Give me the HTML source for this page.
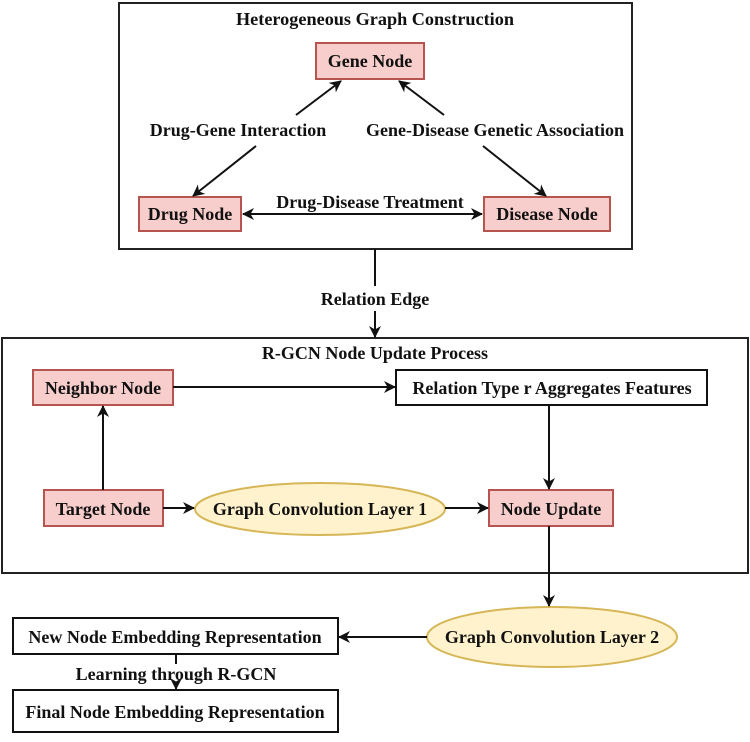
<!DOCTYPE html>
<html><head><meta charset="utf-8"><style>
body{margin:0;background:#fff}
svg text{font-family:"Liberation Serif",serif;font-weight:bold;font-size:18px;fill:#111}
</style></head><body>
<svg width="750" height="737" viewBox="0 0 750 737" xmlns="http://www.w3.org/2000/svg">
<defs><marker id="a" markerWidth="12" markerHeight="12" refX="11" refY="6" orient="auto" markerUnits="userSpaceOnUse"><path d="M0,0 L12,6 L0,12 L3.5,6 z" fill="#111"/></marker>
<marker id="s" markerWidth="12" markerHeight="12" refX="1" refY="6" orient="auto" markerUnits="userSpaceOnUse"><path d="M12,0 L0,6 L12,12 L8.5,6 z" fill="#111"/></marker></defs>
<g fill="none" stroke="#222" stroke-width="2">
<rect x="119" y="3" width="513" height="246"/>
<rect x="2" y="338" width="746" height="235"/>
</g>
<g fill="#f8cecc" stroke="#b85450" stroke-width="2">
<rect x="316" y="43" width="108" height="36"/>
<rect x="139" y="197" width="102" height="34"/>
<rect x="484" y="197" width="126" height="34"/>
<rect x="33" y="370" width="140" height="35"/>
<rect x="44" y="490" width="119" height="36"/>
<rect x="489" y="490" width="124" height="36"/>
</g>
<g fill="#fff" stroke="#111" stroke-width="2">
<rect x="396" y="370" width="311" height="35"/>
<rect x="13" y="618" width="325" height="36"/>
<rect x="13" y="690" width="325" height="42"/>
</g>
<g fill="#fff2cc" stroke="#d6b656" stroke-width="2">
<ellipse cx="320" cy="509" rx="125" ry="26"/>
<ellipse cx="552" cy="637" rx="125" ry="30"/>
</g>
<g stroke="#111" stroke-width="2" fill="none">
<line x1="296" y1="115" x2="341" y2="81" marker-end="url(#a)"/>
<line x1="256" y1="146" x2="193" y2="196" marker-end="url(#a)"/>
<line x1="444" y1="115" x2="399" y2="81" marker-end="url(#a)"/>
<line x1="483" y1="146" x2="546" y2="196" marker-end="url(#a)"/>
<line x1="243" y1="214" x2="482" y2="214" marker-start="url(#s)" marker-end="url(#a)"/>
<line x1="375" y1="249" x2="375" y2="286"/>
<line x1="375" y1="311" x2="375" y2="337" marker-end="url(#a)"/>
<line x1="173" y1="387" x2="395" y2="387" marker-end="url(#a)"/>
<line x1="103" y1="490" x2="103" y2="406" marker-end="url(#a)"/>
<line x1="549" y1="405" x2="549" y2="489" marker-end="url(#a)"/>
<line x1="163" y1="508" x2="194" y2="508" marker-end="url(#a)"/>
<line x1="445" y1="508" x2="488" y2="508" marker-end="url(#a)"/>
<line x1="549" y1="526" x2="549" y2="606" marker-end="url(#a)"/>
<line x1="427" y1="637" x2="339" y2="637" marker-end="url(#a)"/>
<line x1="176" y1="654" x2="176" y2="664"/>
<line x1="176" y1="682" x2="176" y2="689" marker-end="url(#a)"/>
</g>
<g text-anchor="middle">
<text x="375" y="25" textLength="278" lengthAdjust="spacingAndGlyphs">Heterogeneous Graph Construction</text>
<text x="370" y="67">Gene Node</text>
<text x="190" y="220">Drug Node</text>
<text x="547" y="220">Disease Node</text>
<text x="238" y="136">Drug-Gene Interaction</text>
<text x="495" y="136">Gene-Disease Genetic Association</text>
<text x="370" y="208">Drug-Disease Treatment</text>
<text x="375" y="305">Relation Edge</text>
<text x="375" y="359">R-GCN Node Update Process</text>
<text x="103" y="394">Neighbor Node</text>
<text x="552" y="394">Relation Type r Aggregates Features</text>
<text x="103" y="515">Target Node</text>
<text x="320" y="515">Graph Convolution Layer 1</text>
<text x="551" y="515">Node Update</text>
<text x="552" y="643">Graph Convolution Layer 2</text>
<text x="175" y="643">New Node Embedding Representation</text>
<text x="176" y="680">Learning through R-GCN</text>
<text x="175" y="718">Final Node Embedding Representation</text>
</g>
</svg>
</body></html>
